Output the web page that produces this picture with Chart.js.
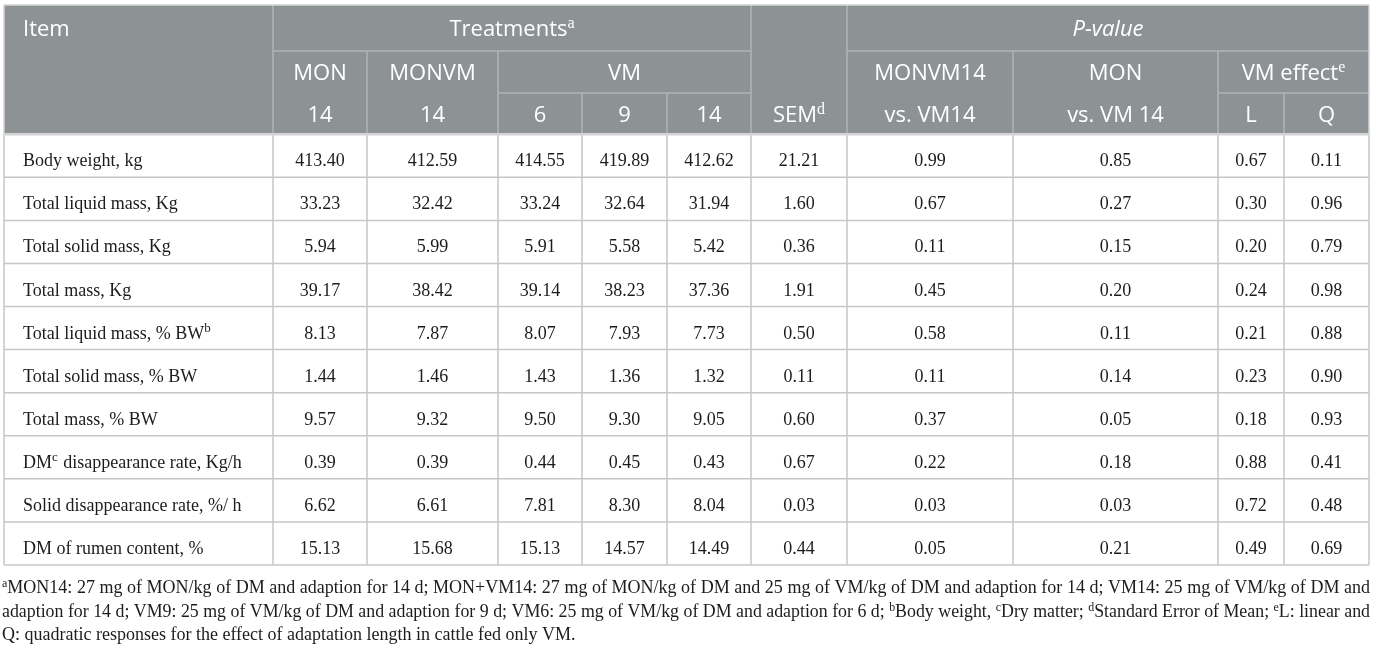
<!DOCTYPE html>
<html>
<head>
<meta charset="utf-8">
<script src="https://cdn.jsdelivr.net/npm/chart.js@4.4.1/dist/chart.umd.min.js"></script>
<style>
html, body { margin: 0; padding: 0; background: #fff; }
#wrap { width: 1376px; height: 647px; position: relative; }
</style>
</head>
<body>
<div id="wrap"><canvas id="tbl"></canvas></div>
<script>
// row labels (^x = superscript)
const items = [
    'Body weight, kg', 'Total liquid mass, Kg', 'Total solid mass, Kg', 'Total mass, Kg',
    'Total liquid mass, % BW^b', 'Total solid mass, % BW', 'Total mass, % BW',
    'DM^c disappearance rate, Kg/h', 'Solid disappearance rate, %/ h', 'DM of rumen content, %'
];

// treatments
const mon14   = [413.40, 33.23, 5.94, 39.17, 8.13, 1.44, 9.57, 0.39, 6.62, 15.13];
const monvm14 = [412.59, 32.42, 5.99, 38.42, 7.87, 1.46, 9.32, 0.39, 6.61, 15.68];
const vm6     = [414.55, 33.24, 5.91, 39.14, 8.07, 1.43, 9.50, 0.44, 7.81, 15.13];
const vm9     = [419.89, 32.64, 5.58, 38.23, 7.93, 1.36, 9.30, 0.45, 8.30, 14.57];
const vm14    = [412.62, 31.94, 5.42, 37.36, 7.73, 1.32, 9.05, 0.43, 8.04, 14.49];
const sem     = [21.21, 1.60, 0.36, 1.91, 0.50, 0.11, 0.60, 0.67, 0.03, 0.44];

// P-values
const pMonvmVsVm14 = [0.99, 0.67, 0.11, 0.45, 0.58, 0.11, 0.37, 0.22, 0.03, 0.05];
const pMonVsVm14   = [0.85, 0.27, 0.15, 0.20, 0.11, 0.14, 0.05, 0.18, 0.03, 0.21];
const pLinear      = [0.67, 0.30, 0.20, 0.24, 0.21, 0.23, 0.18, 0.88, 0.72, 0.49];
const pQuadratic   = [0.11, 0.96, 0.79, 0.98, 0.88, 0.90, 0.93, 0.41, 0.48, 0.69];

// header labels
const headTop    = ['Item', 'Treatments^a', 'P-value'];
const headMiddle = ['MON', 'MONVM', 'VM', 'MONVM14', 'MON', 'VM effect^e'];
const headBottom = ['14', '14', '6', '9', '14', 'SEM^d', 'vs. VM14', 'vs. VM 14', 'L', 'Q'];

const footnotes = [
    '^aMON14: 27 mg of MON/kg of DM and adaption for 14 d; MON+VM14: 27 mg of MON/kg of DM and 25 mg of VM/kg of DM and adaption for 14 d; VM14: 25 mg of VM/kg of DM and',
    'adaption for 14 d; VM9: 25 mg of VM/kg of DM and adaption for 9 d; VM6: 25 mg of VM/kg of DM and adaption for 6 d; ^bBody weight, ^cDry matter; ^dStandard Error of Mean; ^eL: linear and',
    'Q: quadratic responses for the effect of adaptation length in cattle fed only VM.'
];

// layout (px from the table's left edge)
const colEdges = [0, 269, 363, 494, 578, 663, 747, 843, 1009, 1214, 1280, 1365];
const hdrLines = [-3, -1.93, -0.957, 0];

const valueCols = [mon14, monvm14, vm6, vm9, vm14, sem, pMonvmVsVm14, pMonVsVm14, pLinear, pQuadratic];

const HEAD_BG = '#8d9295';
const HEAD_LINE = '#b0b4b6';
const GRID = '#c6c6c6';
const TEXT = '#1c1c1c';
const SERIF = '"Liberation Serif", "DejaVu Serif", serif';
const SANS = '"Open Sans", "Noto Sans", sans-serif';

// split "abc^d efg" into runs
function parseRuns(s) {
    return s.split(/\^(\w)/).map((t, i) => ({ t: t, sup: i % 2 === 1 })).filter(r => r.t);
}

function runsWidth(ctx, runs, font, supFont) {
    let w = 0;
    runs.forEach(r => { ctx.font = r.sup ? supFont : font; w += ctx.measureText(r.t).width; });
    return w;
}

function drawRuns(ctx, runs, x, y, font, supFont, rise, align) {
    const w = runsWidth(ctx, runs, font, supFont);
    if (align === 'center') x -= w / 2;
    ctx.textAlign = 'left';
    ctx.textBaseline = 'alphabetic';
    runs.forEach(r => {
        ctx.font = r.sup ? supFont : font;
        ctx.fillText(r.t, x, r.sup ? y - rise : y);
        x += ctx.measureText(r.t).width + (r.sup ? 1 : 0);
    });
}

// justified paragraph line
function drawJustified(ctx, runs, x0, y, width, justify, font, supFont, rise) {
    const pieces = [];
    runs.forEach(r => {
        if (r.sup) pieces.push({ text: r.t, sup: true });
        else r.t.split(/( )/).forEach(p => { if (p) pieces.push({ text: p, sup: false, space: p === ' ' }); });
    });
    let total = 0, nSpace = 0;
    pieces.forEach(p => {
        ctx.font = p.sup ? supFont : font;
        p.w = ctx.measureText(p.text).width;
        total += p.w;
        if (p.space) nSpace++;
    });
    let extra = justify && nSpace ? (width - total) / nSpace : 0;
    let sx = 1;
    if (extra < 0) { sx = width / total; extra = 0; }
    ctx.save();
    ctx.translate(x0, y);
    ctx.scale(sx, 1);
    ctx.textAlign = 'left';
    ctx.textBaseline = 'alphabetic';
    let x = 0;
    pieces.forEach(p => {
        ctx.font = p.sup ? supFont : font;
        if (!p.space) ctx.fillText(p.text, x, p.sup ? -rise : 0);
        x += p.w + (p.space ? extra / sx : 0);
    });
    ctx.restore();
}

function colCenter(c) { return (colEdges[c] + colEdges[c + 1]) / 2; }

// one scatter dataset per value column, points sit at cell centres
const datasets = valueCols.map((vals, k) => ({
    data: vals.map((v, r) => ({ x: colCenter(k + 1), y: r + 0.5 })),
    labels: vals.map(v => v.toFixed(2)),
    pointRadius: 0
}));

function line(ctx, x1, y1, x2, y2) {
    ctx.beginPath();
    ctx.moveTo(x1, y1);
    ctx.lineTo(x2, y2);
    ctx.stroke();
}

const tablePlugin = {
    id: 'tableDraw',
    beforeDatasetsDraw(chart) {
        const ctx = chart.ctx;
        const xs = chart.scales.x, ys = chart.scales.y;
        const X = v => xs.getPixelForValue(v);
        const Y = v => ys.getPixelForValue(v);
        const E = i => X(colEdges[i]);
        const last = colEdges.length - 1;
        ctx.save();

        // header band
        ctx.fillStyle = HEAD_BG;
        ctx.fillRect(E(0), Y(-3), E(last) - E(0), Y(0) - Y(-3));

        // header inner rules
        ctx.strokeStyle = HEAD_LINE;
        ctx.lineWidth = 1.5;
        line(ctx, E(1), Y(hdrLines[1]), E(6), Y(hdrLines[1]));
        line(ctx, E(7), Y(hdrLines[1]), E(last), Y(hdrLines[1]));
        line(ctx, E(3), Y(hdrLines[2]), E(6), Y(hdrLines[2]));
        line(ctx, E(9), Y(hdrLines[2]), E(last), Y(hdrLines[2]));
        [1, 6, 7].forEach(i => line(ctx, E(i), Y(-3), E(i), Y(0)));
        [2, 3, 8, 9].forEach(i => line(ctx, E(i), Y(hdrLines[1]), E(i), Y(0)));
        [4, 5, 10].forEach(i => line(ctx, E(i), Y(hdrLines[2]), E(i), Y(0)));

        // body grid
        ctx.strokeStyle = GRID;
        ctx.lineWidth = 1.5;
        for (let r = 1; r <= items.length; r++) line(ctx, E(0), Y(r), E(last), Y(r));
        for (let i = 0; i <= last; i++) line(ctx, E(i), Y(0), E(i), Y(items.length));
        // outer border + header bottom
        ctx.strokeStyle = '#d4d4d4';
        line(ctx, E(0), Y(-3), E(last), Y(-3));
        line(ctx, E(0), Y(-3), E(0), Y(0));
        line(ctx, E(last), Y(-3), E(last), Y(0));
        ctx.lineWidth = 2.5;
        line(ctx, E(0), Y(0), E(last), Y(0));

        // header text
        const hf = '22px ' + SANS;
        const hsup = '16px ' + SERIF;
        const mid = (a, b) => (Y(a) + Y(b)) / 2;
        const b1 = mid(hdrLines[0], hdrLines[1]) + 8;
        const b2 = mid(hdrLines[1], hdrLines[2]) + 8;
        const b3 = mid(hdrLines[2], hdrLines[3]) + 8;
        ctx.fillStyle = '#ffffff';
        drawRuns(ctx, parseRuns(headTop[0]), E(0) + 19, b1, hf, hsup, 8, 'left');
        drawRuns(ctx, parseRuns(headTop[1]), (E(1) + E(6)) / 2, b1, hf, hsup, 8, 'center');
        drawRuns(ctx, parseRuns(headTop[2]), (E(7) + E(last)) / 2, b1, 'italic ' + hf, hsup, 8, 'center');

        const midCols = [[1, 2], [2, 3], [3, 6], [7, 8], [8, 9], [9, 11]];
        headMiddle.forEach((t, k) => {
            const c = midCols[k];
            drawRuns(ctx, parseRuns(t), (E(c[0]) + E(c[1])) / 2, b2, hf, hsup, 8, 'center');
        });
        headBottom.forEach((t, k) => {
            drawRuns(ctx, parseRuns(t), (E(k + 1) + E(k + 2)) / 2, b3, hf, hsup, 8, 'center');
        });

        // item column
        ctx.fillStyle = TEXT;
        items.forEach((t, r) => {
            drawRuns(ctx, parseRuns(t), E(0) + 19, Y(r + 0.5) + 10.5, '18px ' + SERIF, '13px ' + SERIF, 7, 'left');
        });
        ctx.restore();
    },
    afterDatasetsDraw(chart) {
        const ctx = chart.ctx;
        ctx.save();
        ctx.fillStyle = TEXT;
        ctx.font = '18px ' + SERIF;
        ctx.textAlign = 'center';
        ctx.textBaseline = 'alphabetic';
        chart.data.datasets.forEach((ds, i) => {
            chart.getDatasetMeta(i).data.forEach((pt, r) => {
                ctx.fillText(ds.labels[r], pt.x, pt.y + 10.5);
            });
        });

        // footnotes under the table
        const bottom = chart.scales.y.getPixelForValue(items.length);
        const fx = 2, fw = 1368;
        footnotes.forEach((f, k) => {
            drawJustified(ctx, parseRuns(f), fx, bottom + 28 + k * 23.5, fw, k < footnotes.length - 1,
                '18px ' + SERIF, '12px ' + SERIF, 6);
        });
        ctx.restore();
    }
};

new Chart(document.getElementById('tbl'), {
    type: 'scatter',
    data: { datasets: datasets },
    options: {
        responsive: true,
        maintainAspectRatio: false,
        animation: false,
        events: [],
        layout: { padding: { left: 4, right: 7, top: 5, bottom: 82 } },
        scales: {
            x: { type: 'linear', min: 0, max: colEdges[colEdges.length - 1], display: false },
            y: { type: 'linear', min: -3, max: items.length, reverse: true, display: false }
        },
        plugins: {
            legend: { display: false },
            tooltip: { enabled: false }
        }
    },
    plugins: [tablePlugin]
});
</script>
</body>
</html>
